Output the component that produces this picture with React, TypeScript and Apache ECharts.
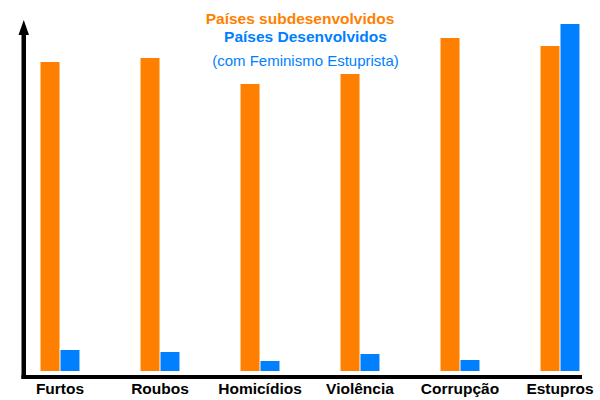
import React, { useEffect, useRef } from "react";
import * as echarts from "echarts";

const categories = ["Furtos", "Roubos", "Homicídios", "Violência", "Corrupção", "Estupros"];
const subdesenvolvidos = [309, 313, 287, 297, 333, 325];
const desenvolvidos = [21, 19, 10, 17, 11, 347];
const legendLines = ["Países subdesenvolvidos", "Países Desenvolvidos", "(com Feminismo Estuprista)"];

const ORANGE = "#FF8000";
const BLUE = "#0080FF";
const FONT = "'Liberation Sans', Arial, Helvetica, sans-serif";

export default function App() {
  const ref = useRef<HTMLDivElement>(null);
  useEffect(() => {
    if (!ref.current) return;
    const chart = echarts.init(ref.current, null, { renderer: "svg" });
    chart.setOption({
      animation: false,
      backgroundColor: "#ffffff",
      grid: { left: 10, right: 0, top: 21, bottom: 29, containLabel: false },
      xAxis: {
        type: "category",
        data: categories,
        axisLine: { show: false },
        axisTick: { show: false },
        axisLabel: {
          margin: 9,
          color: "#000",
          fontFamily: FONT,
          fontWeight: "bold",
          fontSize: 15.5,
          interval: 0,
        },
      },
      yAxis: {
        type: "value",
        min: 0,
        max: 350,
        show: false,
        splitLine: { show: false },
      },
      series: [
        {
          type: "bar",
          name: legendLines[0],
          data: subdesenvolvidos,
          barWidth: 19,
          barGap: "5%",
          itemStyle: { color: ORANGE },
        },
        {
          type: "bar",
          name: legendLines[1],
          data: desenvolvidos,
          barWidth: 19,
          barGap: "5%",
          itemStyle: { color: BLUE },
        },
      ],
      graphic: [
        { type: "rect", shape: { x: 21.5, y: 30, width: 4.5, height: 349 }, style: { fill: "#000" } },
        { type: "polygon", shape: { points: [[23.75, 20], [18.5, 35], [29, 35]] }, style: { fill: "#000" } },
        { type: "rect", shape: { x: 21.5, y: 375, width: 560.5, height: 4 }, style: { fill: "#000" } },
        {
          type: "text",
          x: 300,
          y: 18,
          style: {
            text: legendLines[0],
            fill: ORANGE,
            font: `bold 15.5px ${FONT}`,
            textAlign: "center",
            textVerticalAlign: "middle",
          },
        },
        {
          type: "text",
          x: 305.5,
          y: 36,
          style: {
            text: legendLines[1],
            fill: BLUE,
            font: `bold 15.5px ${FONT}`,
            textAlign: "center",
            textVerticalAlign: "middle",
          },
        },
        {
          type: "text",
          x: 305.5,
          y: 60,
          style: {
            text: legendLines[2],
            fill: BLUE,
            font: `15px ${FONT}`,
            textAlign: "center",
            textVerticalAlign: "middle",
          },
        },
      ],
    });
    return () => chart.dispose();
  }, []);
  return (
    <div style={{ position: "fixed", left: 0, top: 0, width: 600, height: 400, overflow: "hidden" }}>
      <div ref={ref} style={{ width: 610, height: 400 }} />
    </div>
  );
}
